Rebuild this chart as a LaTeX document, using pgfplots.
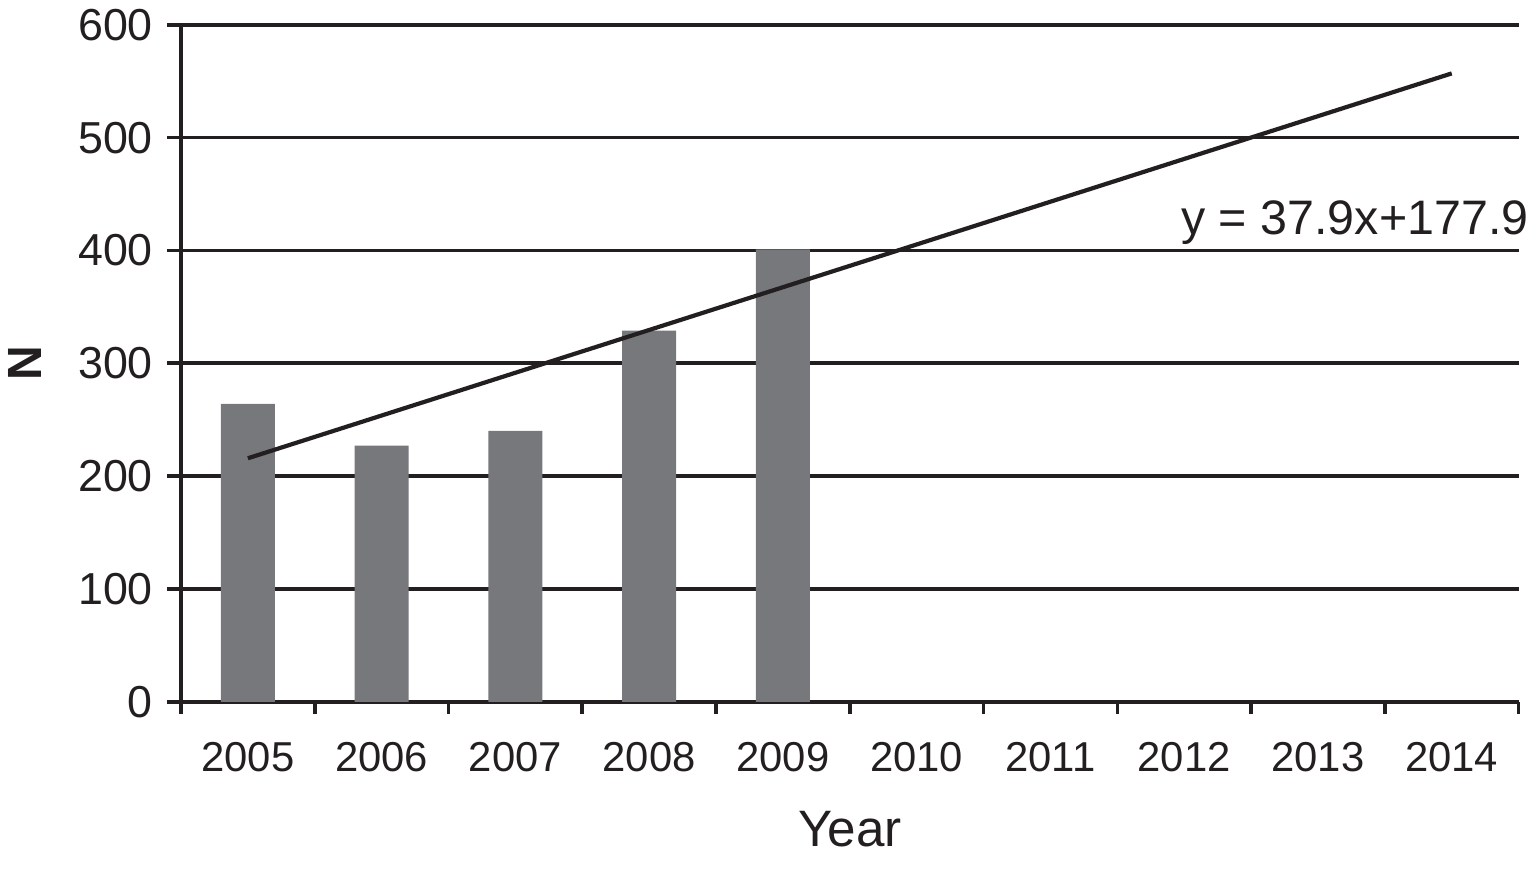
\documentclass[border=0pt]{standalone}
\usepackage{pgfplots}
\pgfplotsset{compat=1.18}
\usetikzlibrary{calc}
\usepackage{fontspec}
\setmainfont{Liberation Sans}
\definecolor{bargray}{RGB}{119,120,124}
\definecolor{ink}{RGB}{35,31,32}
\begin{document}
\begin{tikzpicture}
\begin{axis}[
  scale only axis,
  width=334.4pt, height=169.25pt,
  xmin=-0.5, xmax=9.5,
  ymin=0, ymax=600,
  axis x line=bottom, axis y line=left,
  axis line style={-, line width=0.9pt, ink},
  xtick={0,...,9},
  xticklabels={2005,2006,2007,2008,2009,2010,2011,2012,2013,2014},
  minor xtick={-0.5,0.5,...,9.5},
  major x tick style={draw=none},
  minor x tick style={line width=0.9pt, ink},
  minor tick length=3pt,
  ytick={0,100,...,600},
  y tick style={line width=0.9pt, ink},
  major tick length=3.5pt,
  tick align=outside,
  ymajorgrids,
  major grid style={line width=0.9pt, ink},
  /pgf/number format/assume math mode=true,
  yticklabel style={anchor=east, xshift=0pt, font=\fontsize{11.2}{13}\selectfont, text=ink},
  xticklabel style={anchor=north, yshift=-3pt, font=\fontsize{10.45}{12}\selectfont, text=ink},
  xlabel={Year},
  xlabel style={at={(axis description cs:0.5,0)}, anchor=center, yshift=-31.8pt, font=\fontsize{12.8}{15}\selectfont, text=ink},
  ylabel={\bfseries N},
  ylabel style={at={(axis description cs:-0.1169,0.5)}, anchor=center, font=\fontsize{12}{14}\selectfont, text=ink},
  clip=false,
]
\addplot[ybar, bar width=13.5pt, fill=bargray, draw=none] coordinates {
  (0,264) (1,227) (2,240) (3,329) (4,401)
};
\addplot[line width=1.05pt, ink] coordinates {(0,215.8) (9,556.9)};
\node[anchor=base east, inner sep=0pt, font=\fontsize{12.1}{14}\selectfont, text=ink] at (axis cs:9.58,414) {y = 37.9x+177.9};
\end{axis}
\pgfresetboundingbox
\path ($(current axis.south west)+(-45.25pt,-42.1pt)$) rectangle ($(current axis.north east)+(2.6pt,6.2pt)$);
\end{tikzpicture}
\end{document}
